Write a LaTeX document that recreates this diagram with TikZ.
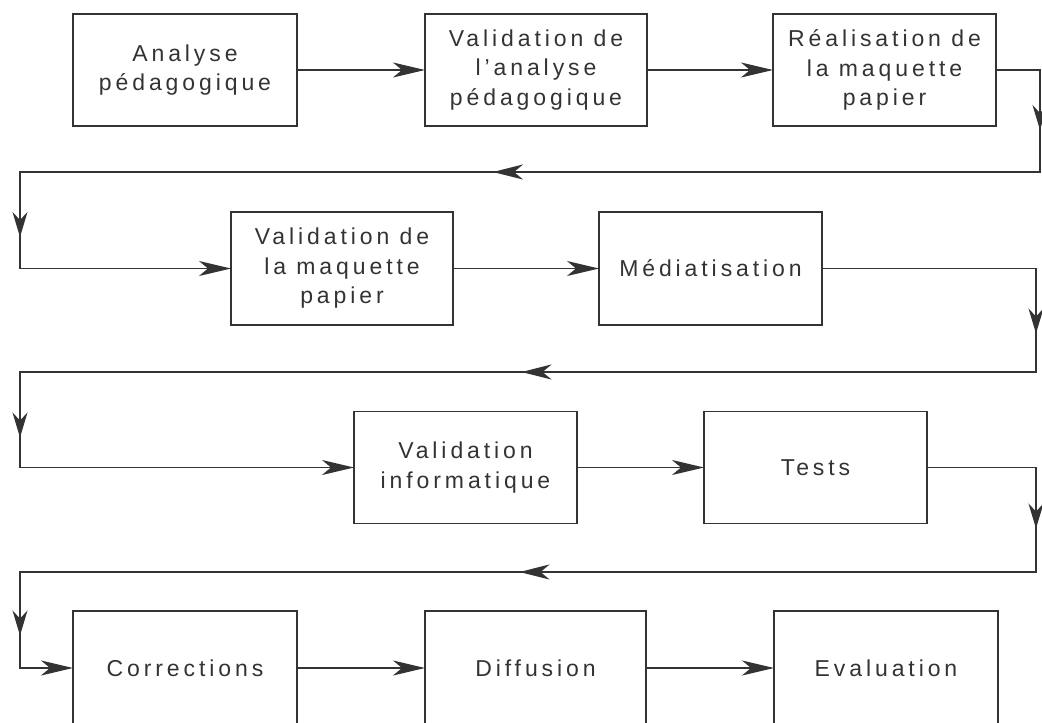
\documentclass[tikz,border=0pt]{standalone}
\usepackage{fontspec}
\setmainfont{Liberation Sans}[LetterSpace=17]
\usetikzlibrary{arrows.meta,decorations.markings}
\definecolor{ink}{HTML}{333333}
\tikzset{
  box/.style={draw=ink, line width=1.5pt, rectangle, inner sep=0pt, outer sep=0pt,
    align=center, text=ink, font=\fontsize{23}{29.5}\selectfont},
  conn/.style={draw=ink, line width=1.6pt, -{Stealth[length=32pt, width=15pt, inset=9pt]}}
}
\begin{document}
\begin{tikzpicture}[x=1pt,y=-1pt]
\useasboundingbox (0,0) rectangle (1042,723);
\clip (0,0) rectangle (1042,723);
% row 1
\node[box, minimum width=224pt, minimum height=112pt] (A) at (185,70) {Analyse\\pédagogique};
\node[box, minimum width=222pt, minimum height=112pt] (B) at (536,70) {Validation de\\l{\char"0027}analyse\\pédagogique};
\node[box, minimum width=223pt, minimum height=112pt] (C) at (884.5,70) {Réalisation de\\la maquette\\papier};
% row 2
\node[box, minimum width=222pt, minimum height=113pt] (D) at (342,268.5) {Validation de\\la maquette\\papier};
\node[box, minimum width=223pt, minimum height=113pt] (E) at (710.5,268.5) {Médiatisation};
% row 3
\node[box, minimum width=223pt, minimum height=112pt] (F) at (465.5,467.5) {Validation\\informatique};
\node[box, minimum width=223pt, minimum height=112pt] (G) at (815.5,467.5) {Tests};
% row 4
\node[box, minimum width=224pt, minimum height=114pt] (H) at (185,668) {Corrections};
\node[box, minimum width=221pt, minimum height=114pt] (I) at (535.5,668) {Diffusion};
\node[box, minimum width=224pt, minimum height=114pt] (J) at (886,668) {Evaluation};
% corners
\coordinate (p1) at (1040,172);
\coordinate (q1) at (20,172);
\coordinate (p2) at (1036,372);
\coordinate (q2) at (20,372);
\coordinate (p3) at (1036,572);
\coordinate (q3) at (20,572);
% straight connectors
\draw[conn] (A) -- (B);
\draw[conn] (B) -- (C);
\draw[conn] (D) -- (E);
\draw[conn] (F) -- (G);
\draw[conn] (H) -- (I);
\draw[conn] (I) -- (J);
% return loops
\draw[conn, decoration={markings,
    mark=at position 104pt with {\arrow[ink]{Stealth[length=25pt, width=15pt, inset=8pt]}},
    mark=at position 693pt with {\arrow[ink]{Stealth[length=30pt, width=15pt, inset=9pt]}},
    mark=at position 1231pt with {\arrow[ink]{Stealth[length=25pt, width=15pt, inset=8pt]}}},
  postaction={decorate}]
  (C.east) -| (p1) -- (q1) |- (D.west);
\draw[conn, decoration={markings,
    mark=at position 279pt with {\arrow[ink]{Stealth[length=25pt, width=15pt, inset=8pt]}},
    mark=at position 832pt with {\arrow[ink]{Stealth[length=30pt, width=15pt, inset=9pt]}},
    mark=at position 1399pt with {\arrow[ink]{Stealth[length=25pt, width=15pt, inset=8pt]}}},
  postaction={decorate}]
  (E.east) -| (p2) -- (q2) |- (F.west);
\draw[conn, decoration={markings,
    mark=at position 170pt with {\arrow[ink]{Stealth[length=25pt, width=15pt, inset=8pt]}},
    mark=at position 730pt with {\arrow[ink]{Stealth[length=30pt, width=15pt, inset=9pt]}},
    mark=at position 1293pt with {\arrow[ink]{Stealth[length=25pt, width=15pt, inset=8pt]}}},
  postaction={decorate}]
  (G.east) -| (p3) -- (q3) |- (H.west);
\end{tikzpicture}
\end{document}
